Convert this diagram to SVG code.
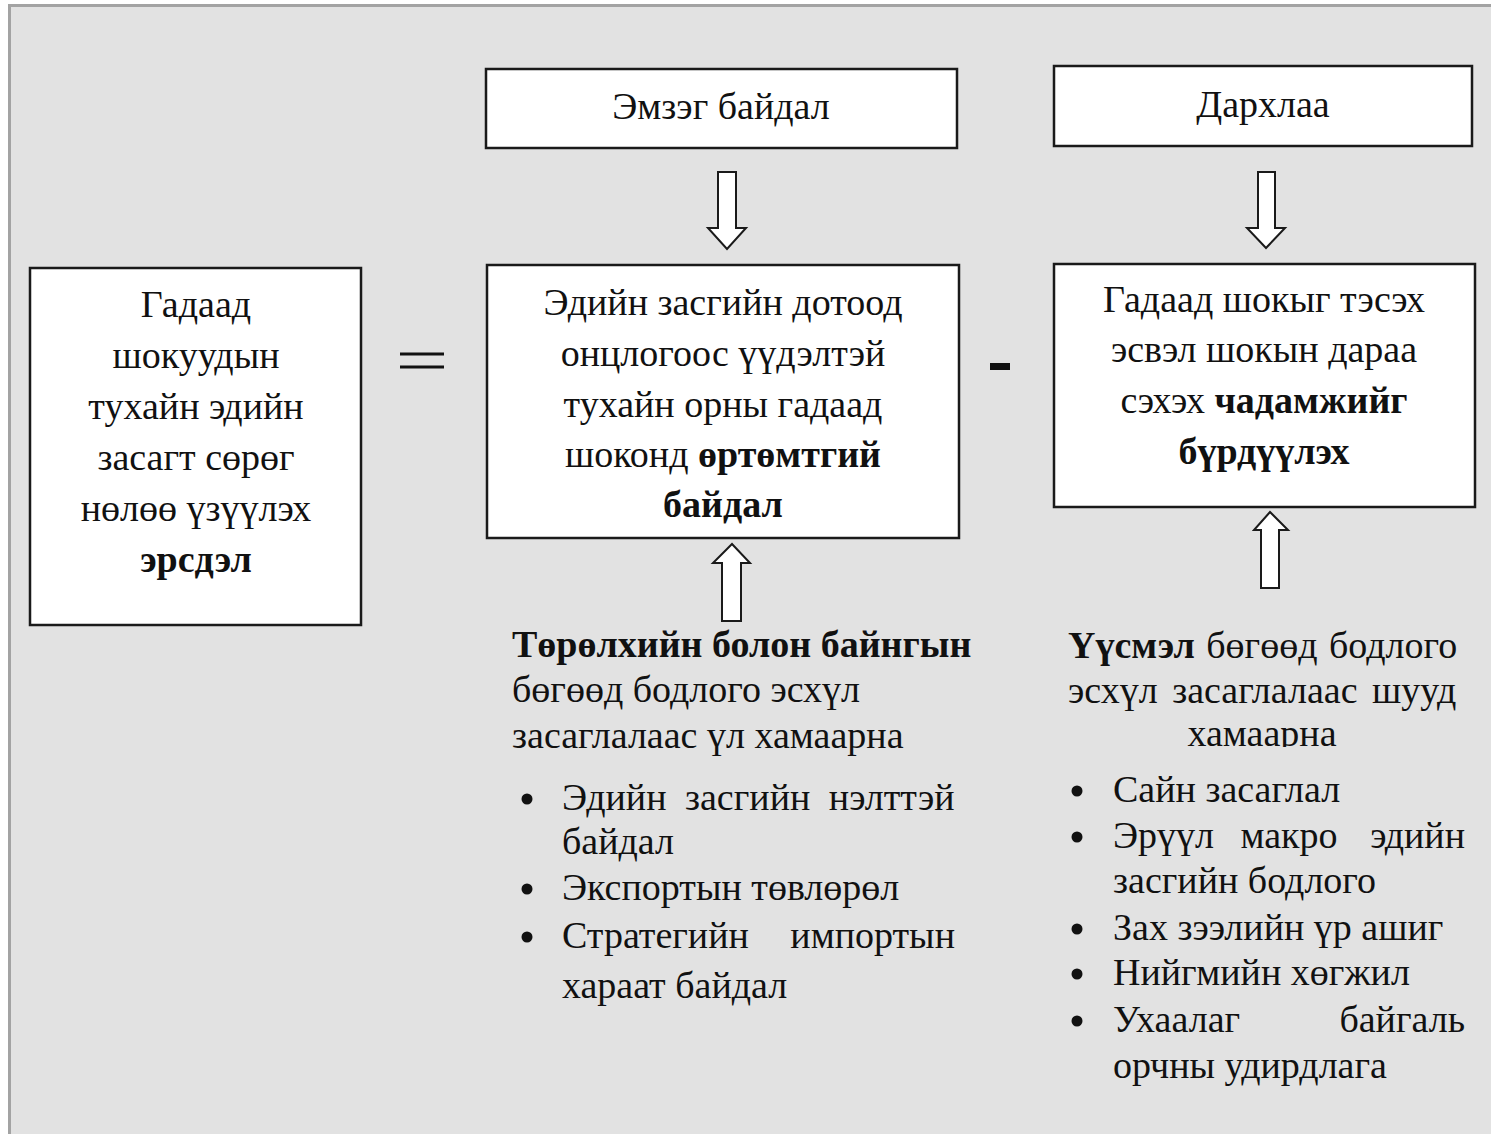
<svg xmlns="http://www.w3.org/2000/svg" width="1491" height="1134" viewBox="0 0 1491 1134">
<defs>
<style>
.bg{fill:#e2e2e2;stroke:#a3a3a3;stroke-width:3}
.box{fill:#ffffff;stroke:#1a1a1a;stroke-width:2.5}
.arrow{fill:#ffffff;stroke:#1a1a1a;stroke-width:2;stroke-linejoin:miter}
text{font-family:"Liberation Serif","Times New Roman",serif;font-size:38px;fill:#111}
.c{text-anchor:middle}
.e{text-anchor:end}
.b{font-weight:bold}
.op{stroke:#111;stroke-width:3}
.dot{fill:#111}
</style>
<clipPath id="clipH"><rect x="1050" y="600" width="440" height="147"/></clipPath>
</defs>
<rect width="1491" height="1134" fill="#ffffff"/>
<rect class="bg" x="9.5" y="5.5" width="1500" height="1150"/>

<g id="connectors">
<polygon class="arrow" points="718,172 736,172 736,228 746,228 727,249 708,228 718,228"/>
<polygon class="arrow" points="1258,172 1275,172 1275,228 1285,228 1266,248 1247,228 1258,228"/>
<polygon class="arrow" points="722,621 741,621 741,563 750,563 732,544 713,563 722,563"/>
<polygon class="arrow" points="1261,588 1279,588 1279,530 1288,530 1270,512 1254,530 1261,530"/>
</g>

<g id="op-equals">
<line class="op" x1="400" y1="354" x2="444" y2="354"/>
<line class="op" x1="400" y1="367" x2="444" y2="367"/>
</g>
<g id="op-minus">
<rect x="990" y="363" width="20" height="7" fill="#111"/>
</g>

<g id="node-risk">
<rect class="box" x="30" y="268" width="331" height="357"/>
<text class="c" x="196" y="317">Гадаад</text>
<text class="c" x="196" y="368">шокуудын</text>
<text class="c" x="196" y="419">тухайн эдийн</text>
<text class="c" x="196" y="470">засагт сөрөг</text>
<text class="c" x="196" y="521">нөлөө үзүүлэх</text>
<text class="c b" x="196" y="572">эрсдэл</text>
</g>

<g id="node-vuln-title">
<rect class="box" x="486" y="69" width="471" height="79"/>
<text class="c" x="721" y="119">Эмзэг байдал</text>
</g>

<g id="node-resil-title">
<rect class="box" x="1054" y="66" width="418" height="80"/>
<text class="c" x="1263" y="117">Дархлаа</text>
</g>

<g id="node-vuln">
<rect class="box" x="487" y="265" width="472" height="273"/>
<text class="c" x="723" y="315">Эдийн засгийн дотоод</text>
<text class="c" x="723" y="366">онцлогоос үүдэлтэй</text>
<text class="c" x="723" y="417">тухайн орны гадаад</text>
<text class="c" x="723" y="467">шоконд <tspan class="b">өртөмтгий</tspan></text>
<text class="c b" x="723" y="517">байдал</text>
</g>

<g id="node-resil">
<rect class="box" x="1054" y="264" width="421" height="243"/>
<text class="c" x="1264" y="312">Гадаад шокыг тэсэх</text>
<text class="c" x="1264" y="362">эсвэл шокын дараа</text>
<text class="c" x="1264" y="413">сэхэх <tspan class="b">чадамжийг</tspan></text>
<text class="c b" x="1264" y="464">бүрдүүлэх</text>
</g>

<g id="note-vuln">
<text x="512" y="657"><tspan class="b">Төрөлхийн болон байнгын</tspan></text>
<text x="512" y="702">бөгөөд бодлого эсхүл</text>
<text x="512" y="748">засаглалаас үл хамаарна</text>
<circle class="dot" cx="527" cy="799" r="5.5"/>
<text x="562" y="810" word-spacing="9">Эдийн засгийн нэлттэй</text>
<text x="562" y="854">байдал</text>
<circle class="dot" cx="527" cy="889" r="5.5"/>
<text x="562" y="900">Экспортын төвлөрөл</text>
<circle class="dot" cx="527" cy="937" r="5.5"/>
<text x="562" y="948">Стратегийн</text>
<text class="e" x="955" y="948">импортын</text>
<text x="562" y="998">хараат байдал</text>
</g>

<g id="note-resil">
<text x="1068" y="658" word-spacing="2"><tspan class="b">Үүсмэл</tspan> бөгөөд бодлого</text>
<text x="1068" y="703" word-spacing="5">эсхүл засаглалаас шууд</text>
<text class="c" x="1262" y="746" clip-path="url(#clipH)">хамаарна</text>
<circle class="dot" cx="1077" cy="791" r="5.5"/>
<text x="1113" y="802">Сайн засаглал</text>
<circle class="dot" cx="1077" cy="837" r="5.5"/>
<text x="1113" y="848">Эрүүл</text>
<text class="c" x="1289" y="848">макро</text>
<text class="e" x="1465" y="848">эдийн</text>
<text x="1113" y="893">засгийн бодлого</text>
<circle class="dot" cx="1077" cy="929" r="5.5"/>
<text x="1113" y="940">Зах зээлийн үр ашиг</text>
<circle class="dot" cx="1077" cy="974" r="5.5"/>
<text x="1113" y="985">Нийгмийн хөгжил</text>
<circle class="dot" cx="1077" cy="1021" r="5.5"/>
<text x="1113" y="1032">Ухаалаг</text>
<text class="e" x="1465" y="1032">байгаль</text>
<text x="1113" y="1078">орчны удирдлага</text>
</g>
</svg>
